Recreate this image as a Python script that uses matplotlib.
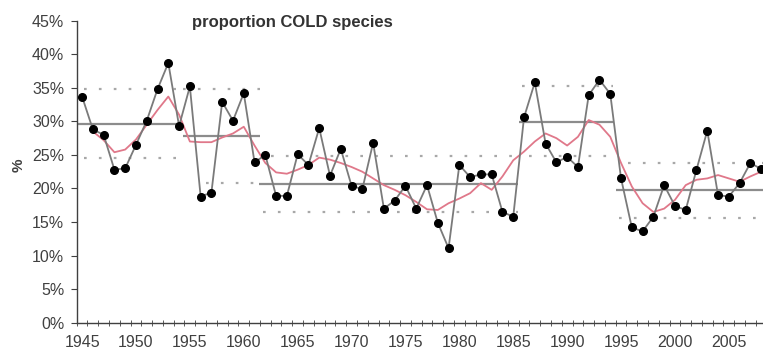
import numpy as np
import matplotlib
matplotlib.use("Agg")
import matplotlib.pyplot as plt
from matplotlib.ticker import FixedLocator, FuncFormatter

plt.rcParams["font.family"] = ["Liberation Sans", "DejaVu Sans"]

years = list(range(1945, 2009))
cold = [33.7, 28.8, 28.0, 22.8, 23.0, 26.5, 30.1, 34.8, 38.7, 29.3,
        35.2, 18.8, 19.4, 32.9, 30.1, 34.2, 23.9, 25.0, 18.9, 18.9,
        25.1, 23.5, 29.0, 21.9, 25.9, 20.4, 19.9, 26.8, 17.0, 18.2,
        20.4, 17.0, 20.5, 14.9, 11.1, 23.5, 21.7, 22.1, 22.1, 16.5,
        15.8, 30.6, 35.8, 26.7, 23.9, 24.7, 23.2, 33.9, 36.2, 34.1,
        21.5, 14.2, 13.6, 15.8, 20.5, 17.4, 16.8, 22.8, 28.6, 19.0,
        18.8, 20.8, 23.8, 22.9]

# smoothed curve, starts 1946
smooth_years = list(range(1946, 2009))
smooth = [28.5, 27.2, 25.4, 25.8, 27.3, 29.5, 31.7, 33.7, 31.0, 27.0,
          26.9, 26.9, 27.6, 28.2, 29.2, 26.4, 23.8, 22.4, 22.2, 22.8,
          23.5, 24.6, 24.3, 23.8, 23.2, 22.5, 21.5, 20.5, 19.8, 19.0,
          18.0, 16.9, 16.8, 17.8, 18.5, 19.3, 20.8, 19.8, 21.8, 24.2,
          25.5, 27.0, 28.2, 27.5, 26.4, 27.7, 30.2, 29.5, 27.7, 23.8,
          20.3, 17.8, 16.5, 17.0, 18.3, 20.5, 21.3, 21.5, 22.0, 21.5,
          21.0, 21.8, 22.5]

# regimes: x-extent, mean, upper and lower dotted bands
reg_start = [1944.5, 1954.4, 1961.4, 1985.5, 1994.5]
reg_end = [1953.9, 1961.5, 1985.4, 1994.3, 2009.0]
reg_mean = [29.6, 27.8, 20.6, 29.9, 19.8]
reg_hi = [34.8, 34.8, 24.9, 35.2, 23.8]
reg_lo = [24.5, 20.8, 16.5, 24.8, 15.6]
hi_start = [1945.2, 1954.4, 1962.5, 1985.8, 1995.6]
lo_start = [1945.2, 1956.5, 1961.8, 1986.5, 1994.8]

fig = plt.figure(figsize=(7.63, 3.51), dpi=100)
ax = fig.add_axes([0.1005, 0.0806, 0.8995, 0.8604])

dot = (0, (1.2, 5.5))
for i in range(len(reg_mean)):
    ax.hlines(reg_mean[i], reg_start[i], reg_end[i], color="#8c8c8c", lw=1.6, zorder=2)
    ax.hlines(reg_hi[i], hi_start[i], reg_end[i], color="#a8a8a8", lw=1.6,
              linestyles=[dot], zorder=1)
    ax.hlines(reg_lo[i], lo_start[i], reg_end[i], color="#a8a8a8", lw=1.6,
              linestyles=[dot], zorder=1)

ax.plot(smooth_years, smooth, color="#e0788a", lw=1.3, zorder=3)
ax.plot(years, cold, color="#7a7a7a", lw=1.3, marker="o", ms=5.5,
        mfc="black", mec="black", zorder=4)

ax.set_xlim(1944.5, 2008.17)
ax.set_ylim(0, 45)
ax.yaxis.set_major_locator(FixedLocator(np.arange(0, 46, 5)))
ax.yaxis.set_major_formatter(FuncFormatter(lambda v, p: f"{int(v)}%"))
ax.xaxis.set_major_locator(FixedLocator(np.arange(1945, 2009, 5)))
ax.xaxis.set_minor_locator(FixedLocator(np.arange(1944.5, 2009, 1)))
ax.tick_params(axis="x", which="major", length=0, pad=9, labelsize=11.5, labelcolor="#404040")
ax.tick_params(axis="x", which="minor", length=5, direction="inout", color="#404040")
ax.tick_params(axis="y", length=4, direction="out", color="#404040", labelsize=11.5,
               labelcolor="#404040", pad=5)

for s in ("top", "right"):
    ax.spines[s].set_visible(False)
for s in ("left", "bottom"):
    ax.spines[s].set_color("#404040")
    ax.spines[s].set_linewidth(1.0)

fig.text(0.024, 0.53, "%", rotation=90, ha="center", va="center",
         fontsize=11, fontweight="bold", color="#404040")
fig.text(0.252, 0.935, "proportion COLD species", fontsize=12,
         fontweight="bold", color="#333333", va="center")

fig.savefig("out.png", dpi=100)
